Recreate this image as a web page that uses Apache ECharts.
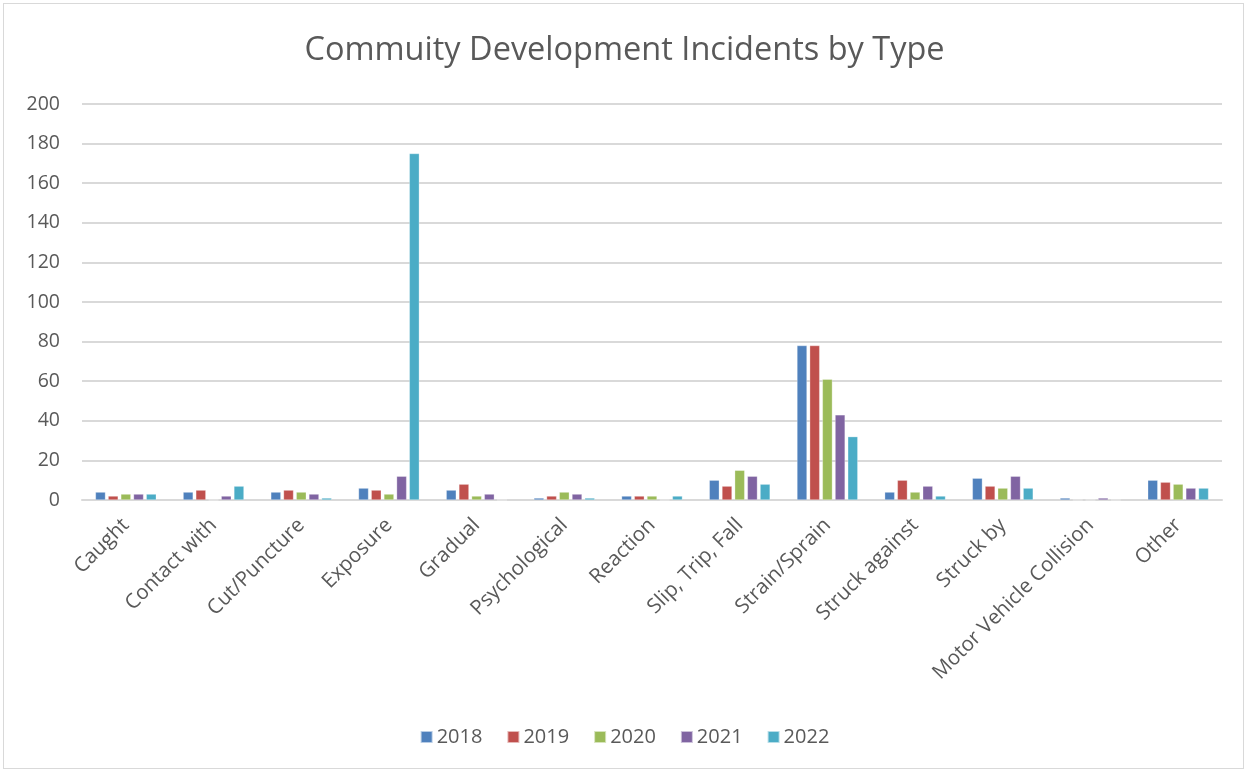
<!DOCTYPE html>
<html>
<head>
<meta charset="utf-8">
<script src="https://cdn.jsdelivr.net/npm/echarts@6/dist/echarts.min.js"></script>
<style>
html,body{margin:0;padding:0;background:#fff;}
#wrap{position:absolute;left:3px;top:3px;width:1241px;height:766px;border:1px solid #d9d9d9;box-sizing:border-box;}
#chart{position:absolute;left:0;top:0;width:1249px;height:774px;}
</style>
</head>
<body>
<div id="wrap"></div>
<div id="chart"></div>
<script>
const categories = ["Caught","Contact with","Cut/Puncture","Exposure","Gradual","Psychological","Reaction","Slip, Trip, Fall","Strain/Sprain","Struck against","Struck by","Motor Vehicle Collision","Other"];
const years = ["2018","2019","2020","2021","2022"];
const v2018 = [4,4,4,6,5,1,2,10,78,4,11,1,10];
const v2019 = [2,5,5,5,8,2,2,7,78,10,7,0,9];
const v2020 = [3,0,4,3,2,4,2,15,61,4,6,0,8];
const v2021 = [3,2,3,12,3,3,0,12,43,7,12,1,6];
const v2022 = [3,7,1,175,0,1,2,8,32,2,6,0,6];
const yTicks = [0,20,40,60,80,100,120,140,160,180,200];
const colors = ["#4F81BD","#C0504D","#9BBB59","#8064A2","#4BACC6"];
const seriesValues = [v2018,v2019,v2020,v2021,v2022];

const font = "'Open Sans', sans-serif";
const chart = echarts.init(document.getElementById('chart'), null, {renderer:'canvas'});
chart.setOption({
  animation:false,
  color: colors,
  title:{
    text:"Commuity Development Incidents by Type",
    left:'center', top:29,
    textStyle:{fontFamily:font,fontSize:32.5,fontWeight:'normal',color:'#595959'}
  },
  legend:{
    data: years, bottom:22, left:'center',
    itemWidth:12, itemHeight:12, itemGap:24, icon:'rect',
    textStyle:{fontFamily:font,fontSize:20,color:'#595959',padding:[0,0,0,-1]}
  },
  grid:{left:82,right:27,top:104,bottom:274,containLabel:false},
  xAxis:{
    type:'category', data:categories,
    axisLine:{show:true,lineStyle:{color:'#d9d9d9',width:2}},
    axisTick:{show:false},
    axisLabel:{rotate:45,interval:0,fontFamily:font,fontSize:20.5,color:'#595959',margin:22}
  },
  yAxis:{
    type:'value', min:yTicks[0], max:yTicks[yTicks.length-1], interval:20,
    axisLine:{show:false}, axisTick:{show:false},
    splitLine:{lineStyle:{color:'#d9d9d9',width:2}},
    axisLabel:{fontFamily:font,fontSize:19.5,color:'#595959',margin:22}
  },
  series: years.map((y,i)=>({
    name:y, type:'bar', data:seriesValues[i],
    barWidth:10, barGap:'27%',
    itemStyle:{color:colors[i],borderColor:'rgba(255,255,255,0.6)',borderWidth:0.5}
  }))
});
</script>
</body>
</html>
